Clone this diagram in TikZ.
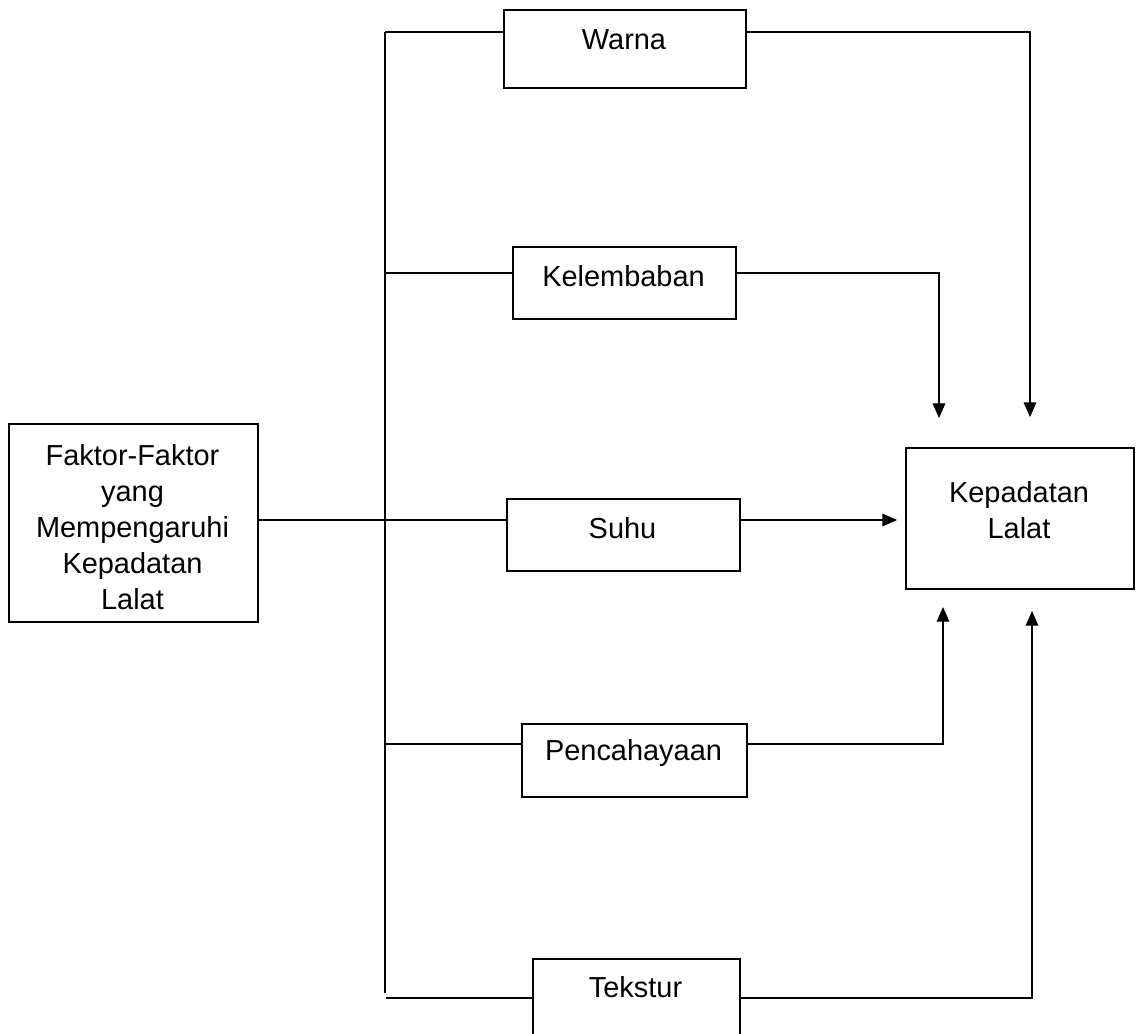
\documentclass[tikz,border=0pt]{standalone}
\usepackage{fontspec}
\setmainfont{Liberation Sans}
\usetikzlibrary{arrows.meta}
\begin{document}
\begin{tikzpicture}[x=0.75pt,y=-0.75pt,
  box/.style={draw,line width=1.5pt,rectangle,inner sep=0pt,anchor=north west},
  lbl/.style={inner sep=0pt,font=\fontsize{21.7}{27}\selectfont,align=center},
  conn/.style={line width=0.8pt},
  arr/.style={line width=0.8pt,-{Triangle[length=11pt,width=9.5pt]}}]
\clip (0,0) rectangle (1137,1033);
\fill[white] (0,0) rectangle (1137,1033);
% boxes
\node[box,minimum width=249*0.75pt,minimum height=198*0.75pt] (faktor) at (8,423) {};
\node[lbl] (faktorT) at (132.5,527) {Faktor-Faktor\\yang\\Mempengaruhi\\Kepadatan\\Lalat};
\node[box,minimum width=242*0.75pt,minimum height=78*0.75pt] (warna) at (503,9) {};
\node[lbl] (warnaT) at (624,40) {Warna};
\node[box,minimum width=223*0.75pt,minimum height=72*0.75pt] (kelem) at (512,246) {};
\node[lbl] (kelemT) at (623.5,276) {Kelembaban};
\node[box,minimum width=233*0.75pt,minimum height=72*0.75pt] (suhu) at (506,498) {};
\node[lbl] (suhuT) at (622.5,528) {Suhu};
\node[box,minimum width=225*0.75pt,minimum height=73*0.75pt] (pencah) at (521,723) {};
\node[lbl] (pencahT) at (633.5,753) {Pencahayaan};
\node[box,minimum width=207*0.75pt,minimum height=120*0.75pt] (tekstur) at (532,958) {};
\node[lbl] (teksturT) at (635.5,987) {Tekstur};
\node[box,minimum width=228*0.75pt,minimum height=141*0.75pt] (kepad) at (905,447) {};
\node[lbl] (kepadT) at (1019,510) {Kepadatan\\Lalat};
% coordinates
\coordinate (bus top) at (385,32);
\coordinate (bus bot) at (385,993);
\coordinate (tW) at (1030,417);
\coordinate (tK) at (939,418);
\coordinate (tP) at (943,607);
\coordinate (tT) at (1032,611);
\coordinate (tS) at (897,520);
% left connectors
\draw[conn] (bus top) -- (bus bot);
\draw[conn] (bus top) -- (warna.west |- bus top);
\draw[conn] (385,273) -- (kelem.west |- 0,273);
\draw[conn] (faktor.east |- 0,520) -- (suhu.west |- 0,520);
\draw[conn] (385,744) -- (pencah.west |- 0,744);
\draw[conn] (386,998) -- (tekstur.west |- 0,998);
% right connectors
\draw[arr] (warna.east |- 0,32) -| (tW);
\draw[arr] (kelem.east |- 0,273) -| (tK);
\draw[arr] (suhu.east |- 0,520) -- (tS);
\draw[arr] (pencah.east |- 0,744) -| (tP);
\draw[arr] (tekstur.east |- 0,998) -| (tT);
\end{tikzpicture}
\end{document}
